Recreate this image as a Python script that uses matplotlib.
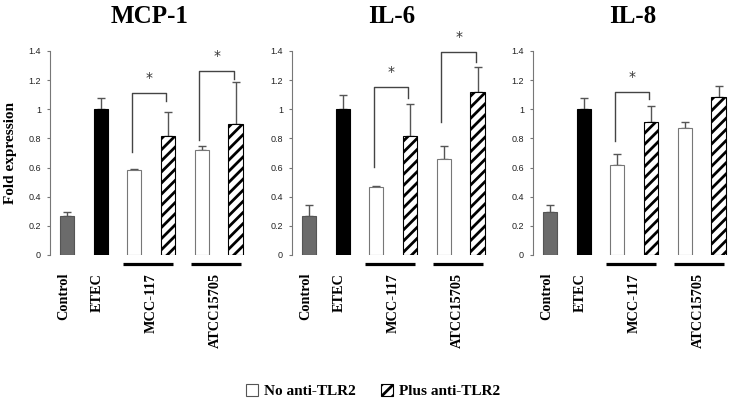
import matplotlib
matplotlib.use("Agg")
import matplotlib.pyplot as plt
import matplotlib.transforms as mtransforms
from matplotlib.patches import Patch

# ---- data ----
panels = ["MCP-1", "IL-6", "IL-8"]
bar_labels = ["Control", "ETEC", "MCC-117", "ATCC15705"]
legend_labels = ["No anti-TLR2", "Plus anti-TLR2"]

mcp1_means = [0.265, 1.0, 0.58, 0.82, 0.72, 0.90]
mcp1_err = [0.03, 0.08, 0.012, 0.16, 0.025, 0.285]
il6_means = [0.27, 1.0, 0.465, 0.815, 0.66, 1.12]
il6_err = [0.07, 0.10, 0.006, 0.22, 0.085, 0.17]
il8_means = [0.295, 1.0, 0.62, 0.91, 0.87, 1.085]
il8_err = [0.05, 0.08, 0.07, 0.11, 0.04, 0.075]

# significance brackets: (white bar index, hatched bar index, left leg bottom, top, right leg bottom)
mcp1_sig = [(2, 3, 0.71, 1.115, 1.055), (4, 5, 0.79, 1.265, 1.205)]
il6_sig = [(2, 3, 0.605, 1.15, 1.075), (4, 5, 0.915, 1.39, 1.325)]
il8_sig = [(2, 3, 0.785, 1.12, 1.07)]

means_all = [mcp1_means, il6_means, il8_means]
err_all = [mcp1_err, il6_err, il8_err]
sig_all = [mcp1_sig, il6_sig, il8_sig]

yticks = [0, 0.2, 0.4, 0.6, 0.8, 1.0, 1.2, 1.4]
ytick_labels = ["0", "0.2", "0.4", "0.6", "0.8", "1", "1.2", "1.4"]

# ---- style ----
plt.rcParams["hatch.linewidth"] = 2.0
serif = ["Liberation Serif", "DejaVu Serif"]
W, H = 729, 400
fig = plt.figure(figsize=(W / 100, H / 100), dpi=100)

xpos = [0, 1, 2, 3, 4, 5]
face = ["#6b6b6b", "black", "white", "white", "white", "white"]
hatches = [None, None, None, "///", None, "///"]
edges = ["#555555", "black", "#777777", "black", "#777777", "black"]
axes_left_px = [50, 292, 533]
label_x = [-0.1, 0.9, 2.5, 4.4]

for p, name in enumerate(panels):
    ax = fig.add_axes([axes_left_px[p] / W, (H - 255) / H, 199 / W, 204 / H])
    m = means_all[p]
    e = err_all[p]
    for i in range(6):
        ax.bar(xpos[i], m[i], width=0.42, color=face[i], edgecolor=edges[i],
               linewidth=0.8, hatch=hatches[i], zorder=2)
        ax.errorbar(xpos[i], m[i], yerr=[[0], [e[i]]], fmt="none",
                    ecolor="#555555", elinewidth=1.0, capsize=3, capthick=1.0, zorder=1)
    for (a, b, yl, yt, yr) in sig_all[p]:
        xa, xb = xpos[a] - 0.07, xpos[b] - 0.05
        ax.plot([xa, xa, xb, xb], [yl, yt, yt, yr], color="#444444", lw=1.0,
                clip_on=False, zorder=3)
        ax.text((xa + xb) / 2, yt + 0.055, "*", ha="center", va="bottom",
                fontsize=10, family=["DejaVu Sans"], color="#333333", clip_on=False)
    ax.set_xlim(-0.5, 5.4)
    ax.set_ylim(0, 1.4)
    ax.set_yticks(yticks)
    ax.set_yticklabels(ytick_labels, fontsize=6.5, family=["Liberation Sans"], color="#222222")
    ax.tick_params(axis="y", direction="out", length=2.5, width=0.8, color="#777777", pad=4)
    ax.set_xticks([])
    for s in ["top", "right", "bottom"]:
        ax.spines[s].set_visible(False)
    ax.spines["left"].set_color("#777777")
    ax.spines["left"].set_linewidth(0.8)
    ax.set_facecolor("none")
    ax.set_title(name, fontsize=18, fontweight="bold", family=serif, pad=20)

    trans = mtransforms.blended_transform_factory(ax.transData, ax.transAxes)
    # group underlines
    for g0 in [2, 4]:
        ul = mtransforms.offset_copy(trans, fig=fig, x=0, y=-8.5, units="dots")
        ax.plot([xpos[g0] - 0.33, xpos[g0 + 1] + 0.15], [0, 0], color="black", lw=2.3,
                solid_capstyle="butt", transform=ul, clip_on=False)
    # category labels
    lt = mtransforms.offset_copy(trans, fig=fig, x=0, y=-18, units="dots")
    for j, lab in enumerate(bar_labels):
        ax.text(label_x[j], 0, lab, rotation=90,
                ha="center", va="top", fontsize=10.3, fontweight="bold",
                family=serif, transform=lt)
    if p == 0:
        ax.set_ylabel("Fold expression", fontsize=11, fontweight="bold", family=serif,
                      labelpad=8)

handles = [Patch(facecolor="white", edgecolor="#555555", linewidth=0.8),
           Patch(facecolor="white", edgecolor="black", hatch="///", linewidth=0.8)]
fig.legend(handles, legend_labels, loc="center", bbox_to_anchor=(373 / W, 1 - 391 / H),
           ncol=2, frameon=False, prop={"family": serif, "weight": "bold", "size": 11},
           handlelength=0.8, handleheight=0.9, handletextpad=0.4, columnspacing=1.6)

fig.savefig("out.png", dpi=100)
